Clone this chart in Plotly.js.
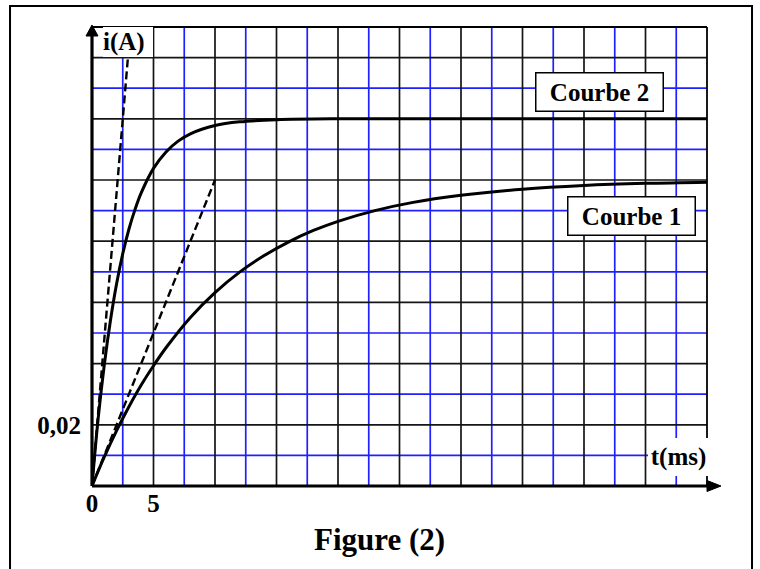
<!DOCTYPE html>
<html><head><meta charset="utf-8">
<script src="https://cdn.plot.ly/plotly-3.0.1.min.js"></script>
<style>html,body{margin:0;padding:0;background:#fff}</style>
</head><body><div id="chart" style="width:760px;height:569px"></div>
<script>
// ---- data ----
const xTickVals = [0, 5, 10, 15, 20, 25, 30, 35, 40, 45, 50];
const xTickText = ['0', '5', '', '', '', '', '', '', '', '', ''];
const yTickVals = [0, 0.02, 0.04, 0.06, 0.08, 0.10, 0.12, 0.14];
const yTickText = ['', '0,02', '', '', '', '', '', ''];
// intermediate (blue) grid lines
const xMinorVals = [2.5, 7.5, 12.5, 17.5, 22.5, 27.5, 32.5, 37.5, 42.5, 47.5];
const yMinorVals = [0.01, 0.03, 0.05, 0.07, 0.09, 0.11, 0.13];

// Courbe 2 (fast rise)
const t2 = [0, 0.5, 1, 1.5, 2, 2.5, 3, 3.5, 4, 5, 6, 7, 8, 10, 12, 15, 20, 30, 40, 50];
const i2 = [0, 0.022, 0.0396, 0.0541, 0.0661, 0.0759, 0.0839, 0.0904, 0.0958, 0.1038, 0.1091, 0.1127, 0.1151, 0.1178, 0.119, 0.1197, 0.12, 0.12, 0.12, 0.12];
// Courbe 1 (slow rise)
const t1 = [0, 1, 2, 3, 4, 5, 6, 8, 10, 12, 14, 16, 18, 20, 23, 26, 30, 35, 40, 45, 50];
const i1 = [0, 0.0095, 0.0181, 0.0259, 0.033, 0.0393, 0.0451, 0.0551, 0.0632, 0.0699, 0.0753, 0.0798, 0.0835, 0.0865, 0.09, 0.0926, 0.095, 0.097, 0.0982, 0.0989, 0.0993];
// tangents at the origin (dashed)
const tan2T = [0, 2.92];
const tan2I = [0, 0.14];
const tan1T = [0, 10];
const tan1I = [0, 0.10];

const curveLabels = ['Courbe 2', 'Courbe 1'];
const axisLabels = ['i(A)', 't(ms)'];
const figTitle = 'Figure (2)';

// ---- styles ----
const SERIF = 'Liberation Serif, Times New Roman, serif';
const BLUE = '#2020ff';
const DARK = '#151515';
const GW = 1.7;

const traces = [
  {x: t2, y: i2, mode: 'lines', line: {color: '#000', width: 3, shape: 'spline'}, hoverinfo: 'skip'},
  {x: t1, y: i1, mode: 'lines', line: {color: '#000', width: 3, shape: 'spline'}, hoverinfo: 'skip'},
  {x: tan2T, y: tan2I, mode: 'lines', line: {color: '#000', width: 2.4, dash: '8px,4px'}, hoverinfo: 'skip'},
  {x: tan1T, y: tan1I, mode: 'lines', line: {color: '#000', width: 2.4, dash: '8px,4px'}, hoverinfo: 'skip'}
];

// grid lines built from the tick arrays
const gridShapes = [];
xMinorVals.forEach(v => gridShapes.push({type: 'line', xref: 'x', yref: 'paper', x0: v, x1: v, y0: 0, y1: 1, line: {color: BLUE, width: GW}, layer: 'below'}));
yMinorVals.forEach(v => gridShapes.push({type: 'line', xref: 'paper', yref: 'y', x0: 0, x1: 1, y0: v, y1: v, line: {color: BLUE, width: GW}, layer: 'below'}));
xTickVals.slice(1, -1).forEach(v => gridShapes.push({type: 'line', xref: 'x', yref: 'paper', x0: v, x1: v, y0: 0, y1: 1, line: {color: DARK, width: GW}, layer: 'below'}));
yTickVals.slice(1).forEach(v => gridShapes.push({type: 'line', xref: 'paper', yref: 'y', x0: 0, x1: 1, y0: v, y1: v, line: {color: DARK, width: GW}, layer: 'below'}));

const frameShapes = [
  // outer frame
  {type: 'rect', xref: 'paper', yref: 'paper', x0: -0.1333, x1: 1.0732, y0: -0.25, y1: 1.0458, line: {color: '#000', width: 2}, layer: 'above'},
  // top and right border of the grid
  {type: 'line', xref: 'paper', yref: 'paper', x0: 0, x1: 1, y0: 1, y1: 1, line: {color: '#000', width: 1.8}, layer: 'above'},
  {type: 'line', xref: 'paper', yref: 'paper', x0: 1, x1: 1, y0: 0, y1: 1, line: {color: '#000', width: 1.8}, layer: 'above'},
  // axes
  {type: 'line', xref: 'paper', yref: 'paper', x0: 0, x1: 1, y0: 0, y1: 0, line: {color: '#000', width: 3.2}, layer: 'above'},
  {type: 'line', xref: 'paper', yref: 'paper', x0: 0, x1: 0, y0: 0, y1: 0.985, line: {color: '#000', width: 3.2}, layer: 'above'},
  // arrowheads
  {type: 'path', xref: 'paper', yref: 'paper', xsizemode: 'pixel', ysizemode: 'pixel', xanchor: 1, yanchor: 0,
   path: 'M 0 -5.5 L 14 0 L 0 5.5 Z', fillcolor: '#000', line: {color: '#000', width: 1}, layer: 'above'},
  {type: 'path', xref: 'paper', yref: 'paper', xsizemode: 'pixel', ysizemode: 'pixel', xanchor: 0, yanchor: 1,
   path: 'M -6 -9 L 0 2 L 6 -9 Z', fillcolor: '#000', line: {color: '#000', width: 1}, layer: 'above'}
];

const labelFont = {family: SERIF, size: 25, color: '#000', weight: 'bold'};

const layout = {
  width: 760, height: 569,
  margin: {l: 92, r: 53, t: 27, b: 83, pad: 0},
  paper_bgcolor: '#fff', plot_bgcolor: '#fff',
  showlegend: false,
  xaxis: {
    range: [0, 50], tickmode: 'array', tickvals: xTickVals, ticktext: xTickText,
    showgrid: false, zeroline: false, showline: false, ticks: '',
    tickfont: labelFont, fixedrange: true
  },
  yaxis: {
    range: [0, 0.15], tickmode: 'array', tickvals: yTickVals, ticktext: yTickText,
    showgrid: false, zeroline: false, showline: false, ticks: '', ticklabelstandoff: 10,
    tickfont: labelFont, fixedrange: true
  },
  shapes: gridShapes.concat(frameShapes),
  annotations: [
    {text: curveLabels[0], xref: 'x', yref: 'y', x: 41.3, y: 0.1288, showarrow: false,
     font: labelFont, bgcolor: '#fff', bordercolor: '#000', borderwidth: 1.5, borderpad: 1, width: 124, height: 35},
    {text: curveLabels[1], xref: 'x', yref: 'y', x: 43.9, y: 0.0881, showarrow: false,
     font: labelFont, bgcolor: '#fff', bordercolor: '#000', borderwidth: 1.5, borderpad: 1, width: 124, height: 35},
    {text: axisLabels[0], xref: 'x', yref: 'y', x: 2.93, y: 0.1451, showarrow: false,
     font: labelFont, bgcolor: '#fff', borderwidth: 0, borderpad: 0, width: 50, height: 30, align: 'left'},
    {text: axisLabels[1], xref: 'x', yref: 'y', x: 47.68, y: 0.00948, showarrow: false,
     font: labelFont, bgcolor: '#fff', borderwidth: 0, borderpad: 0, width: 61, height: 38},
    {text: figTitle, xref: 'paper', yref: 'paper', x: 0.4667, y: -0.1176, xanchor: 'center', yanchor: 'middle', showarrow: false,
     font: {family: SERIF, size: 31, color: '#000', weight: 'bold'}}
  ]
};

Plotly.newPlot('chart', traces, layout, {displayModeBar: false, staticPlot: true});
</script>
</body></html>
